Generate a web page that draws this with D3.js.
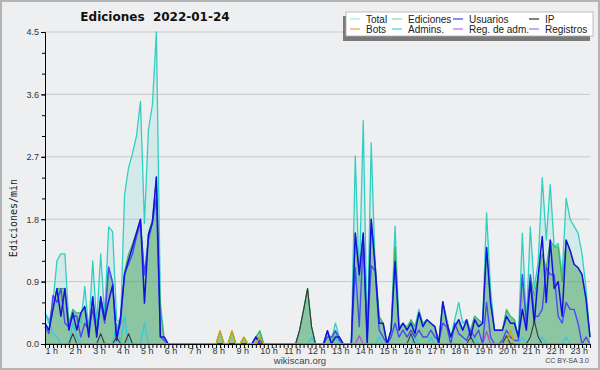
<!DOCTYPE html>
<html>
<head>
<meta charset="utf-8">
<script src="https://cdn.jsdelivr.net/npm/d3@7/dist/d3.min.js"></script>
<style>
  body { margin: 0; background: #eeeff1; }
  svg { display: block; }
</style>
</head>
<body>
<div id="chart"></div>
<script>
// 10 minute bins, 1:00 -> 23:50
var hourLabels = d3.range(1, 24).map(function(h) { return h + " h"; });
var yTicks = [0, 0.9, 1.8, 2.7, 3.6, 4.5];

var total = [
  0.45, 0.3, 0.6, 1.2, 1.3, 1.3, 0.3, 0.5, 0.4, 0.3,
  0.83, 0.2, 1.2, 0.3, 1.3, 0.4, 1.69, 1.62, 0.35, 0.3,
  2.15, 2.54, 2.75, 3.0, 3.5, 1.74, 3.09, 3.45, 4.5, 0.6,
  0.05, 0, 0, 0, 0, 0, 0, 0, 0, 0,
  0, 0, 0, 0, 0.19, 0, 0, 0.19, 0, 0,
  0.1, 0, 0, 0.1, 0.19, 0, 0, 0, 0, 0,
  0, 0, 0, 0, 0.2, 0.49, 0.8, 0.25, 0, 0,
  0, 0.19, 0.05, 0.3, 0.1, 0, 0, 0, 2.71, 0.9,
  3.22, 0.05, 2.9, 1.1, 0.4, 0.3, 0, 0.2, 1.7, 0.25,
  0.3, 0.2, 0.35, 0.25, 0.5, 0.3, 0.35, 0.3, 0.25, 0.05,
  0.61, 0.35, 0.1, 0.35, 0.6, 0.3, 0.35, 0.2, 0.4, 0.35,
  0.3, 1.89, 0.8, 0.2, 0.2, 0.2, 0.5, 0.4, 0.35, 0.1,
  1.6, 0.3, 1.69, 0.8, 1.2, 2.4, 1.5, 2.3, 1.4, 1.45,
  1.0, 2.1, 1.8, 1.7, 1.6, 1.3, 0.8, 0.1
];
var ediciones = [
  0.3, 0.2, 0.5, 0.8, 0.8, 0.8, 0.3, 0.5, 0.45, 0.45,
  0.54, 0.2, 0.68, 0.2, 0.68, 0.4, 1.11, 0.9, 0.1, 0.4,
  1.05, 1.3, 1.45, 1.62, 1.8, 1.0, 1.6, 1.8, 2.41, 0.5,
  0.05, 0, 0, 0, 0, 0, 0, 0, 0, 0,
  0, 0, 0, 0, 0.19, 0, 0, 0.19, 0, 0,
  0.1, 0, 0, 0.1, 0.19, 0, 0, 0, 0, 0,
  0, 0, 0, 0, 0.2, 0.49, 0.8, 0.25, 0, 0,
  0, 0.19, 0, 0.2, 0.1, 0, 0, 0, 1.6, 1.05,
  1.6, 0.05, 1.8, 1.2, 0.4, 0.3, 0, 0.2, 1.4, 0.25,
  0.3, 0.25, 0.35, 0.25, 0.45, 0.3, 0.35, 0.3, 0.25, 0.05,
  0.6, 0.35, 0.1, 0.3, 0.3, 0.2, 0.3, 0.2, 0.4, 0.35,
  0.3, 1.4, 0.6, 0.2, 0.2, 0.2, 0.49, 0.4, 0.35, 0.1,
  1.0, 0.3, 1.0, 0.7, 1.0, 1.3, 1.1, 1.5, 1.4, 1.4,
  0.9, 1.5, 1.35, 1.15, 1.1, 1.0, 0.65, 0.1
];
var usuarios = [
  0.3, 0.2, 0.5, 0.8, 0.4, 0.8, 0.2, 0.45, 0.2, 0.45,
  0.54, 0.1, 0.68, 0.1, 0.68, 0.35, 0.62, 0.85, 0.05, 0.4,
  1.0, 1.21, 1.4, 1.6, 1.8, 0.59, 1.58, 1.75, 2.41, 0.1,
  0.1, 0, 0, 0, 0, 0, 0, 0, 0, 0,
  0, 0, 0, 0, 0, 0, 0, 0, 0, 0,
  0, 0, 0, 0.1, 0, 0, 0, 0, 0, 0,
  0, 0, 0, 0, 0, 0, 0, 0, 0, 0,
  0, 0.19, 0, 0.1, 0.1, 0, 0, 0, 1.6, 1.0,
  1.6, 0, 1.8, 1.1, 0.3, 0.3, 0, 0.2, 1.19, 0.2,
  0.3, 0.2, 0.3, 0.15, 0.45, 0.25, 0.35, 0.3, 0.25, 0,
  0.61, 0.3, 0.1, 0.25, 0.35, 0.2, 0.35, 0.1, 0.35, 0.25,
  0.3, 1.39, 0.6, 0.2, 0.2, 0.2, 0.4, 0.3, 0.3, 0.1,
  0.5, 0.2, 0.9, 0.3, 1.0, 1.55, 0.6, 1.5, 0.8, 0.9,
  0.4, 1.5, 1.35, 1.15, 1.1, 1.0, 0.65, 0.1
];
var registros = [
  0.25, 0.15, 0.7, 0.6, 0.8, 0.3, 0.25, 0.4, 0.4, 0.1,
  0.3, 0.2, 0.5, 0.15, 0.6, 0.3, 1.11, 0.88, 0.1, 0.3,
  1.02, 1.15, 1.3, 1.55, 1.75, 1.0, 1.5, 1.75, 2.1, 0.1,
  0.05, 0, 0, 0, 0, 0, 0, 0, 0, 0,
  0, 0, 0, 0, 0, 0, 0, 0, 0, 0,
  0, 0, 0, 0.1, 0.05, 0, 0, 0, 0, 0,
  0, 0, 0, 0, 0, 0, 0, 0, 0, 0,
  0, 0.1, 0.1, 0.19, 0.05, 0, 0, 0, 1.1, 0.25,
  1.5, 0.1, 1.13, 1.05, 0.2, 0.1, 0, 0.1, 0.3, 0.1,
  0.2, 0.1, 0.2, 0.1, 0.2, 0.1, 0.1, 0.2, 0.1, 0.05,
  0.3, 0.25, 0, 0.3, 0.15, 0.1, 0.05, 0.2, 0.1, 0.2,
  0, 0.6, 0.1, 0, 0, 0.05, 0.2, 0.1, 0.05, 0.05,
  1.0, 0.3, 1.0, 0.4, 0.4, 0.5, 1.1, 1.0, 1.0, 0.4,
  0.3, 0.6, 0.5, 0.5, 0.3, 0, 0.1, 0
];
// sparse series: index -> value
var ipPts = {7: 0.15, 14: 0.15, 18: 0.1, 21: 0.15, 64: 0.2, 65: 0.49, 66: 0.8, 67: 0.25,
  92: 0.15, 107: 0.1, 116: 0.12, 122: 0.1, 123: 0.33, 124: 0.1};
var botsPts = {44: 0.19, 47: 0.19, 50: 0.1, 54: 0.1, 117: 0.2};
var adminsPts = {0: 0.45, 1: 0.35, 2: 0.15, 3: 0.1, 7: 0.3, 8: 0.1, 18: 0.3, 20: 0.4, 25: 0.3,
  54: 0.1, 67: 0.1, 73: 0.1, 84: 0.1, 93: 0.1, 97: 0.1, 108: 0.1, 120: 0.1, 125: 0.1, 131: 0.1};
var regAdmPts = {79: 0.12, 111: 0.18};

function expand(pts) {
  return total.map(function(d, i) { return pts[i] || 0; });
}
var ip = expand(ipPts), bots = expand(botsPts), admins = expand(adminsPts), regAdm = expand(regAdmPts);

var legendItems = [
  ["Total", "#a8e8e0"], ["Ediciones", "#90d890"], ["Usuarios", "#4040e8"], ["IP", "#303030"],
  ["Bots", "#f0a040"], ["Admins.", "#40d0e0"], ["Reg. de adm.", "#d060e0"], ["Registros", "#8080f0"]
];

var W = 600, H = 370;
var svg = d3.select("#chart").append("svg")
    .attr("width", W)
    .attr("height", H)
    .style("font-family", "'Liberation Sans', Arial, sans-serif");

svg.append("rect")
  .attr("x", 1).attr("y", 1).attr("width", W - 2).attr("height", H - 2)
  .attr("fill", "#eeeff1").attr("stroke", "#b4b4b4").attr("stroke-width", 2);

var x = d3.scaleLinear().domain([0, total.length - 1]).range([45, 590]);
var y = d3.scaleLinear().domain([0, 4.5]).range([344, 32]);

// grid
svg.append("g").selectAll("line")
  .data(yTicks.slice(1))
  .enter().append("line")
  .attr("x1", 45).attr("x2", 590)
  .attr("y1", function(d) { return y(d); })
  .attr("y2", function(d) { return y(d); })
  .attr("stroke", "#c8c8c8").attr("stroke-width", 1);

var area = function(data) {
  return d3.area()
    .x(function(d, i) { return x(i); })
    .y0(y(0))
    .y1(function(d) { return y(d); })(data);
};
var line = function(data) {
  return d3.line()
    .x(function(d, i) { return x(i); })
    .y(function(d) { return y(d); })(data);
};

svg.append("path").attr("d", area(total)).attr("fill", "#40d0c0").attr("fill-opacity", 0.15);
svg.append("path").attr("d", area(ediciones)).attr("fill", "#44a05a").attr("fill-opacity", 0.5);

var lines = [
  [total, "#30d0c0", 1.3],
  [ediciones, "#40b040", 1],
  [admins, "#30c8e8", 1.2],
  [regAdm, "#c040e0", 1.2],
  [registros, "#4a4af4", 1.4],
  [usuarios, "#1212dc", 1.5],
  [ip, "#383838", 1.1],
  [bots, "#e0a000", 1.3]
];
lines.forEach(function(l) {
  svg.append("path").attr("d", line(l[0]))
    .attr("fill", "none").attr("stroke", l[1]).attr("stroke-width", l[2])
    .attr("stroke-linejoin", "round");
});

// y axis
var yAxis = svg.append("g").attr("transform", "translate(45,0)")
  .call(d3.axisLeft(y).tickValues(yTicks).tickSize(4).tickFormat(d3.format(".1f")));
svg.append("g").attr("transform", "translate(45,0)")
  .call(d3.axisLeft(y).tickValues(d3.range(0, 4.51, 0.3)).tickSize(3).tickFormat(""))
  .call(function(g) { g.select(".domain").remove(); });
yAxis.selectAll("path, line").attr("stroke", "#000");
yAxis.selectAll("text").attr("font-size", 9).attr("fill", "#333")
  .attr("font-family", "'Liberation Sans', Arial, sans-serif").attr("dx", 1);

// x axis
var xAxis = svg.append("g").attr("transform", "translate(0,344)")
  .call(d3.axisBottom(x).tickValues(d3.range(0, total.length)).tickSize(4).tickSizeOuter(0).tickFormat(""));
xAxis.selectAll("path, line").attr("stroke", "#000");
svg.append("g").selectAll("text")
  .data(hourLabels)
  .enter().append("text")
  .attr("x", function(d, i) { return x(i * 6) + 0.5; })
  .attr("y", 354)
  .attr("font-size", 9).attr("fill", "#333")
  .text(function(d) { return d; });

// titles
svg.append("text")
  .attr("x", 155).attr("y", 21).attr("text-anchor", "middle")
  .attr("font-family", "'DejaVu Sans', sans-serif").attr("font-weight", "bold")
  .attr("font-size", 12).attr("fill", "#111")
  .attr("xml:space", "preserve")
  .text("Ediciones  2022-01-24");

svg.append("text")
  .attr("transform", "translate(17,218) rotate(-90)")
  .attr("text-anchor", "middle")
  .attr("font-family", "'DejaVu Sans Mono', monospace").attr("font-size", 10).attr("fill", "#222")
  .text("Ediciones/min");

svg.append("text")
  .attr("x", 300).attr("y", 364).attr("text-anchor", "middle")
  .attr("font-size", 9.5).attr("fill", "#444")
  .text("wikiscan.org");
svg.append("text")
  .attr("x", 589).attr("y", 363).attr("text-anchor", "end")
  .attr("font-size", 7).attr("fill", "#444")
  .text("CC BY-SA 3.0");

// legend
var lg = svg.append("g");
lg.append("rect").attr("x", 343).attr("y", 16).attr("width", 247).attr("height", 25).attr("fill", "#7a7a7a");
lg.append("rect").attr("x", 346).attr("y", 12).attr("width", 247).attr("height", 24)
  .attr("fill", "#fff").attr("stroke", "#b0b0b0").attr("stroke-width", 0.8);
var colX = [366, 408, 469, 545];
var item = lg.selectAll("g.item")
  .data(legendItems)
  .enter().append("g").attr("class", "item")
  .attr("transform", function(d, i) { return "translate(" + colX[i % 4] + "," + (i < 4 ? 23 : 33) + ")"; });
item.append("line")
  .attr("x1", -16).attr("x2", -6).attr("y1", -4).attr("y2", -4)
  .attr("stroke", function(d) { return d[1]; }).attr("stroke-width", 1.2);
item.append("text")
  .attr("font-size", 10).attr("fill", "#222")
  .text(function(d) { return d[0]; });
</script>
</body>
</html>
